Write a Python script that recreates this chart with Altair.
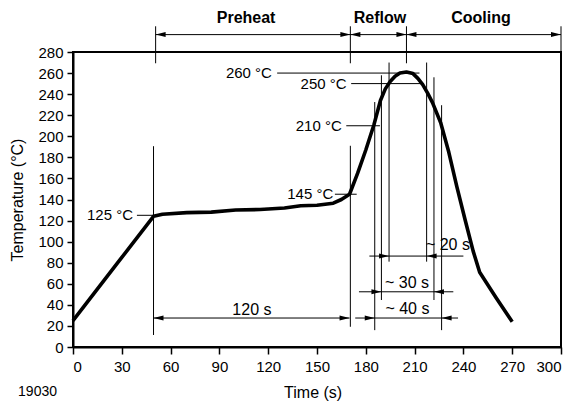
import altair as alt
import pandas as pd

# ---- data ----
curve_t = [0, 30, 49.5, 55, 70, 85, 100, 115, 130, 140, 150, 160, 165, 170, 175, 180, 185, 189, 192, 195,
           198, 201, 205, 209, 212, 215, 218, 221, 226, 231, 236, 241, 246, 250, 260, 270]
curve_temp = [25, 85, 124, 126, 127.5, 128, 130, 130.5, 132, 134, 134.5, 136.5, 140, 145, 165, 187, 211, 234, 245, 252,
              257, 260, 261, 259.5, 255, 249, 241, 232, 213, 185, 152, 121, 91, 71, 47, 24]

# thin vertical guide lines (time, from temp, to temp)
vline_t = [49.5, 170.5, 185.5, 189.6, 194.3, 217.4, 221.9, 226.6, 50.8, 170.5, 205, 300]
vline_lo = [11.4, 19.2, 16, 44.6, 81, 81, 44.6, 16, 269.3, 269.3, 269.3, 269.3]
vline_hi = [190.6, 191, 232.5, 257.9, 270, 270, 256, 229.5, 304.4, 304.4, 304.4, 304.4]

# thin horizontal lines (temp, from time, to time)
hline_temp = [260, 250, 210, 145, 125, 296.5, 27.5, 27.5, 52.4, 86.3]
hline_t1 = [125.5, 171, 168, 161, 39.3, 50.8, 49.5, 173.5, 175.8, 182.2]
hline_t2 = [213, 214, 188.7, 174.4, 49.2, 300, 170, 236.7, 233.8, 240]

# arrow tips
arrow_r_t = [170.5, 205, 300, 170, 185.5, 189.6, 194.3]
arrow_r_temp = [296.5, 296.5, 296.5, 27.5, 27.5, 52.4, 86.3]
arrow_l_t = [50.8, 170.5, 205, 49.5, 226.6, 221.9, 217.4]
arrow_l_temp = [296.5, 296.5, 296.5, 27.5, 27.5, 52.4, 86.3]

# labels
temp_labels = ["260 °C", "250 °C", "210 °C", "145 °C", "125 °C"]
temp_label_t = [122.3, 168.2, 165.2, 160, 36.9]
temp_label_temp = [260, 250, 210, 145, 125]

dim_labels = ["120 s", "~ 40 s", "~ 30 s", "~ 20 s"]
dim_label_t = [110, 205.6, 205.3, 230.5]
dim_label_temp = [35, 35.8, 61, 96.7]

phase_labels = ["Preheat", "Reflow", "Cooling"]
phase_label_t = [106.4, 188.7, 250.8]
phase_label_temp = [312, 312, 312]

x_ticks = list(range(0, 301, 30))
y_ticks = list(range(0, 281, 20))

FONT = "Liberation Sans"

xs = alt.Scale(domain=[0, 300], nice=False, zero=False)
ys = alt.Scale(domain=[0, 280], nice=False, zero=False)
X_AXIS = alt.Axis(values=x_ticks, title="Time (s)", grid=False, tickSize=7, labelPadding=5,
                  titleX=239.6, titleY=45, titleBaseline="middle")
Y_AXIS = alt.Axis(values=y_ticks, title="Temperature (°C)", grid=False, tickSize=6, labelPadding=4,
                  titleX=-56, titleY=147.5, titleBaseline="middle")


def X(f):
    return alt.X(f, type="quantitative", scale=xs, axis=X_AXIS)


def Y(f):
    return alt.Y(f, type="quantitative", scale=ys, axis=Y_AXIS)


curve_df = pd.DataFrame({"t": curve_t, "temp": curve_temp})
vdf = pd.DataFrame({"t": vline_t, "temp": vline_lo, "temp2": vline_hi})
hdf = pd.DataFrame({"temp": hline_temp, "t": hline_t1, "t2": hline_t2})
ardf = pd.DataFrame({"t": arrow_r_t, "temp": arrow_r_temp})
aldf = pd.DataFrame({"t": arrow_l_t, "temp": arrow_l_temp})
tldf = pd.DataFrame({"t": temp_label_t, "temp": temp_label_temp, "label": temp_labels})
dldf = pd.DataFrame({"t": dim_label_t, "temp": dim_label_temp, "label": dim_labels})
pldf = pd.DataFrame({"t": phase_label_t, "temp": phase_label_temp, "label": phase_labels})
figdf = pd.DataFrame({"t": [-21.8], "temp": [-43], "label": ["19030"]})

RIGHT = "M0,0 L-2,-0.5 L-2,0.5 Z"
LEFT = "M0,0 L2,-0.5 L2,0.5 Z"

vlines = alt.Chart(vdf).mark_rule(color="black", strokeWidth=1).encode(
    x=X("t"), y=Y("temp"), y2="temp2")
hlines = alt.Chart(hdf).mark_rule(color="black", strokeWidth=1).encode(
    x=X("t"), x2="t2", y=Y("temp"))
curve = alt.Chart(curve_df).mark_line(color="black", strokeWidth=3.6, strokeJoin="round").encode(
    x=X("t"), y=Y("temp"))
arr_r = alt.Chart(ardf).mark_point(shape=RIGHT, filled=True, size=100, color="black", opacity=1,
                                   strokeWidth=0).encode(x=X("t"), y=Y("temp"))
arr_l = alt.Chart(aldf).mark_point(shape=LEFT, filled=True, size=100, color="black", opacity=1,
                                   strokeWidth=0).encode(x=X("t"), y=Y("temp"))
tlab = alt.Chart(tldf).mark_text(align="right", baseline="middle", font=FONT, fontSize=15,
                                 color="black").encode(x=X("t"), y=Y("temp"), text="label:N")
dlab = alt.Chart(dldf).mark_text(align="center", baseline="middle", font=FONT, fontSize=16,
                                 color="black").encode(x=X("t"), y=Y("temp"), text="label:N")
plab = alt.Chart(pldf).mark_text(align="center", baseline="middle", font=FONT, fontSize=16,
                                 fontWeight="bold", color="black").encode(x=X("t"), y=Y("temp"), text="label:N")
flab = alt.Chart(figdf).mark_text(align="center", baseline="middle", font=FONT, fontSize=14,
                                  color="black").encode(x=X("t"), y=Y("temp"), text="label:N")

chart = alt.layer(vlines, hlines, curve, arr_r, arr_l, tlab, dlab, plab, flab).properties(
    width=488, height=295,
    autosize=alt.AutoSizeParams(type="none"),
    padding={"left": 65, "top": 44, "right": 6, "bottom": 57},
    background="white",
).configure_view(
    stroke="black", strokeWidth=2
).configure_axis(
    labelFont=FONT, labelFontSize=15, labelColor="black",
    titleFont=FONT, titleFontSize=16, titleColor="black", titleFontWeight="normal",
    domainColor="black", domainWidth=2, tickColor="black", tickWidth=1.5,
)

chart.save("out.html", embed_options={"renderer": "svg", "actions": False})
